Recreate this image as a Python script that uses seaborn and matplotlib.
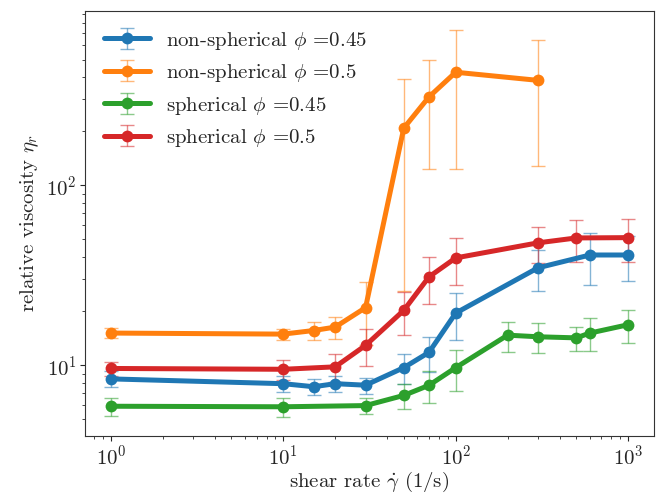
import numpy as np
import pandas as pd
import matplotlib
matplotlib.use("Agg")
import matplotlib.pyplot as plt
from matplotlib.colors import to_rgba
import seaborn as sns

# ── data ──────────────────────────────────────────────────────
labels = [
    r"non-spherical $\phi$ =0.45",
    r"non-spherical $\phi$ =0.5",
    r"spherical $\phi$ =0.45",
    r"spherical $\phi$ =0.5",
]

ns045_x = [1, 10, 15, 20, 30, 50, 70, 100, 300, 600, 1000]
ns045_y = [8.4, 7.9, 7.6, 7.9, 7.75, 9.7, 11.8, 19.5, 34.8, 41.0, 41.0]
ns045_e = [0.85, 0.8, 0.8, 0.8, 0.8, 1.8, 2.6, 5.7, 9.0, 13.0, 11.5]

ns05_x = [1, 10, 15, 20, 30, 50, 70, 100, 300]
ns05_y = [15.1, 14.9, 15.6, 16.3, 20.9, 208, 310, 425, 383]
ns05_e = [1.0, 1.0, 1.8, 2.3, 8.0, 182, 186, 302, 255]

s045_x = [1, 10, 30, 50, 70, 100, 200, 300, 500, 600, 1000]
s045_y = [5.92, 5.88, 5.97, 6.8, 7.74, 9.7, 14.7, 14.4, 14.2, 15.1, 16.8]
s045_e = [0.67, 0.7, 0.6, 1.05, 1.55, 2.5, 2.8, 2.7, 2.2, 3.1, 3.5]

s05_x = [1, 10, 20, 30, 50, 70, 100, 300, 500, 1000]
s05_y = [9.6, 9.5, 9.8, 12.9, 20.2, 31.0, 39.5, 47.9, 51.0, 51.2]
s05_e = [0.85, 1.2, 1.7, 3.0, 5.4, 9.0, 11.5, 11.0, 13.5, 13.5]

series = [
    (ns045_x, ns045_y, ns045_e),
    (ns05_x, ns05_y, ns05_e),
    (s045_x, s045_y, s045_e),
    (s05_x, s05_y, s05_e),
]

rows = []
for lab, (xs, ys, es) in zip(labels, series):
    for x, y, e in zip(xs, ys, es):
        rows.append({"rate": x, "eta": y, "err": e, "case": lab})
df = pd.DataFrame(rows)

# ── style ─────────────────────────────────────────────────────
sns.set_style("ticks")
plt.rcParams["font.family"] = "serif"
plt.rcParams["font.serif"] = ["cmr10", "DejaVu Serif"]
plt.rcParams["mathtext.fontset"] = "cm"
plt.rcParams["axes.formatter.use_mathtext"] = True
plt.rcParams["axes.unicode_minus"] = False

palette = sns.color_palette("tab10", 4)

fig, ax = plt.subplots(figsize=(6.61, 4.98), dpi=100)
fig.subplots_adjust(left=0.1286, right=0.9894, top=0.978, bottom=0.1245)
ax.set_xscale("log")
ax.set_yscale("log")

handles = []
for lab, col in zip(labels, palette):
    sub = df[df["case"] == lab]
    eb = ax.errorbar(sub["rate"], sub["eta"], yerr=sub["err"], fmt="none",
                     ecolor=to_rgba(col, 0.55), elinewidth=1.0, capsize=5,
                     capthick=1.0, zorder=1)
    handles.append(eb)

sns.lineplot(data=df, x="rate", y="eta", hue="case", hue_order=labels,
             palette=palette, marker="o", markersize=8.5, markeredgewidth=0,
             linewidth=3.6, legend=False, ax=ax, zorder=2, sort=True,
             estimator=None)

# 5% log-space margin around data incl. error bars (matplotlib default look)
lo = np.log10((df["eta"] - df["err"]).min())
hi = np.log10((df["eta"] + df["err"]).max())
pad = 0.05 * (hi - lo)
ax.set_ylim(10 ** (lo - pad), 10 ** (hi + pad))
xlo, xhi = np.log10(df["rate"].min()), np.log10(df["rate"].max())
xpad = 0.05 * (xhi - xlo)
ax.set_xlim(10 ** (xlo - xpad), 10 ** (xhi + xpad))

lines = ax.get_lines()[-len(labels):]
leg_handles = [(eb, ln) for eb, ln in zip(handles, lines)]
ax.legend(leg_handles, labels, loc="upper left", fontsize=15, frameon=False,
          handlelength=2.2)

for sp in ax.spines.values():
    sp.set_color("#333333")
ax.tick_params(labelsize=15, pad=2.5)
ax.set_xlabel(r"shear rate $\dot{\gamma}$ (1/s)", fontsize=15, labelpad=1)
ax.set_ylabel(r"relative viscosity $\eta_r$", fontsize=15, labelpad=4)

plt.savefig("out.png", dpi=100)
